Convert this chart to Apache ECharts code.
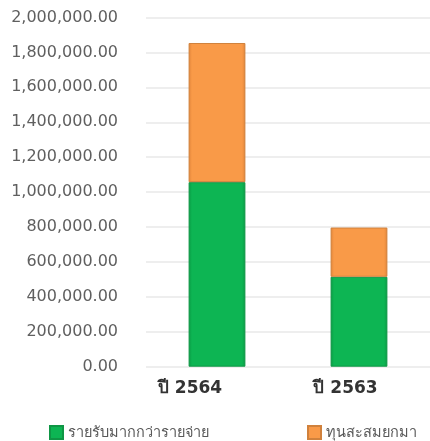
<!DOCTYPE html>
<html><head><meta charset="utf-8">
<script src="https://cdn.jsdelivr.net/npm/echarts@6/dist/echarts.min.js"></script>
<style>html,body{margin:0;padding:0;background:#fff}#c{width:430px;height:441px}</style>
</head><body><div id="c"></div>
<script>
const categories = ['ปี 2564', 'ปี 2563'];
const seriesNames = ['รายรับมากกว่ารายจ่าย', 'ทุนสะสมยกมา'];
const surplus = [1057000, 515000];
const carried = [797000, 282000];
const yMax = 2000000;
const yInterval = 200000;

function grad(edge, mid) {
  return new echarts.graphic.LinearGradient(0, 0, 1, 0, [
    {offset: 0, color: edge}, {offset: 0.06, color: mid},
    {offset: 0.94, color: mid}, {offset: 1, color: edge}
  ]);
}
const chart = echarts.init(document.getElementById('c'), null, {renderer: 'canvas'});
const fmt = v => v.toLocaleString('en-US', {minimumFractionDigits: 2, maximumFractionDigits: 2});
const catStyle = {fontSize: 17, fontWeight: 'bold', color: '#333333', fontFamily: 'DejaVu Sans, sans-serif'};
chart.setOption({
  animation: false,
  backgroundColor: '#fff',
  grid: {left: 146, right: -3, top: 17.5, bottom: 74.3, containLabel: false},
  xAxis: {
    type: 'category', data: categories,
    axisLine: {show: false}, axisTick: {show: false},
    axisLabel: {
      margin: 13,
      formatter: (v, i) => (i === 0 ? '{a|' : '{b|') + v + '}',
      rich: {
        a: Object.assign({padding: [0, 54, 0, 0]}, catStyle),
        b: Object.assign({padding: [0, 27, 0, 0]}, catStyle)
      }
    }
  },
  yAxis: {
    type: 'value', min: 0, max: yMax, interval: yInterval,
    axisLine: {show: false}, axisTick: {show: false},
    splitLine: {lineStyle: {color: '#e8e8e8', width: 1.5}},
    axisLabel: {formatter: fmt, color: '#5f5f5f', fontSize: 16, margin: 28, fontFamily: 'DejaVu Sans, sans-serif'}
  },
  legend: [
    {data: [seriesNames[0]], left: 44, top: 420, icon: 'rect', itemWidth: 13, itemHeight: 13, itemGap: 8,
     textStyle: {color: '#595959', fontSize: 14.5, fontFamily: 'Noto Sans, sans-serif'}},
    {data: [seriesNames[1]], left: 302, top: 420, icon: 'rect', itemWidth: 13, itemHeight: 13, itemGap: 8,
     textStyle: {color: '#595959', fontSize: 14.5, fontFamily: 'Noto Sans, sans-serif'}}
  ],
  series: [
    {name: seriesNames[0], type: 'bar', stack: 's', data: surplus, barWidth: '40%',
     itemStyle: {color: grad('#0a9a44', '#0db553'), borderColor: '#0f9645', borderWidth: 1}},
    {name: seriesNames[1], type: 'bar', stack: 's', data: carried, barWidth: '40%',
     itemStyle: {color: grad('#e0843a', '#f99a48'), borderColor: '#d0813c', borderWidth: 1}}
  ]
});
</script></body></html>
